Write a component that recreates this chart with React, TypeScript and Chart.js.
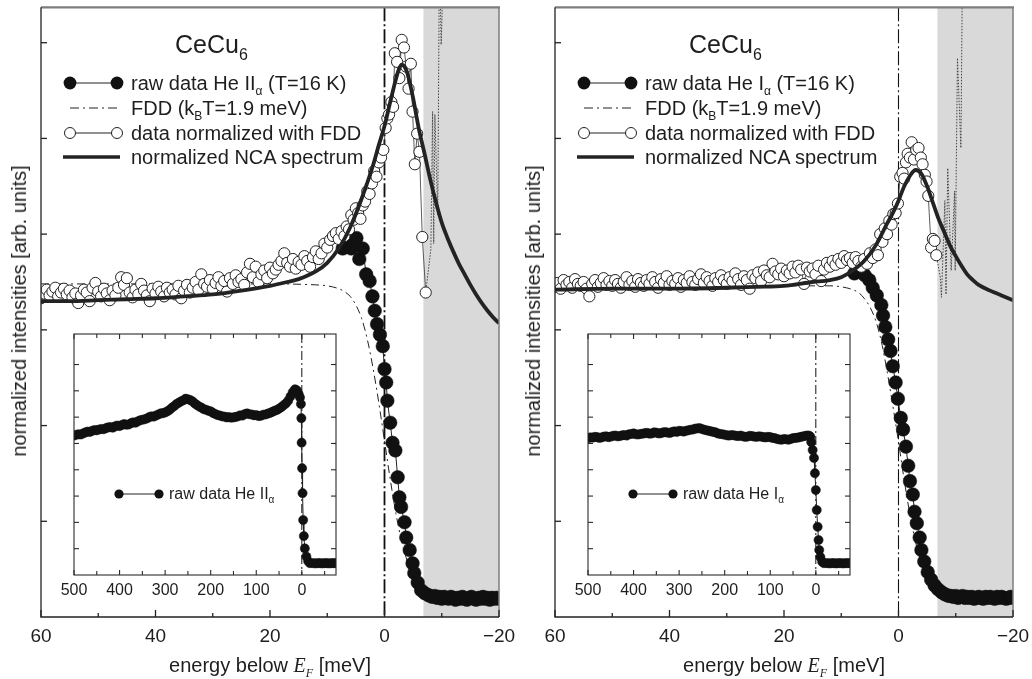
import React, { useEffect, useRef } from "react";
import { Chart, registerables } from "chart.js";

Chart.register(...registerables);

type Pt = [number, number];

const FONT = '"Liberation Sans", Arial, Helvetica, sans-serif';
const INK = "#1e1e1e";

// ---- axes ----
const MAIN_X_TICKS = [60, 40, 20, 0, -20];
const MAIN_X_MINOR = [50, 30, 10, -10];
const MAIN_Y_TICKS = [1, 2, 3, 4, 5, 6];
const MAIN_X_RANGE = [-20, 60];
const MAIN_Y_RANGE = [0, 6.37];
const SHADE_RANGE = [-6.8, -20];
const INSET_X_TICKS = [500, 400, 300, 200, 100, 0];
const INSET_X_MINOR = [450, 350, 250, 150, 50, -50];
const INSET_Y_TICKS = [1, 2, 3, 4, 5, 6, 7, 8];
const INSET_X_RANGE = [-75, 500];
const INSET_Y_RANGE = [0, 9.16];

// ---- left panel (He II) ----
const LEFT_NCA: Pt[] = [
  [60, 3.30], [55, 3.30], [50, 3.31], [45, 3.32], [40, 3.33], [35, 3.35], [30, 3.37], [25, 3.41],
  [20, 3.46], [17, 3.50], [15, 3.53], [12, 3.61], [10, 3.70], [8, 3.85], [6, 4.07], [4, 4.37],
  [2, 4.72], [1, 4.93], [0, 5.13], [-1, 5.38], [-2, 5.62], [-2.5, 5.72], [-3, 5.77], [-3.5, 5.75],
  [-4, 5.68], [-4.5, 5.56], [-5, 5.42], [-6, 5.10], [-7, 4.84], [-8, 4.57], [-9, 4.33], [-10, 4.12],
  [-11, 3.96], [-12, 3.82], [-13, 3.69], [-14, 3.58], [-15, 3.47], [-16, 3.37], [-17, 3.28],
  [-18, 3.20], [-19, 3.13], [-20, 3.07],
];
const LEFT_FDD: Pt[] = [
  [60, 3.48], [40, 3.48], [20, 3.48], [12, 3.47], [10, 3.46], [8, 3.43], [7, 3.40], [6, 3.35],
  [5, 3.26], [4, 3.12], [3, 2.90], [2, 2.60], [1, 2.24], [0, 1.84], [-1, 1.44], [-2, 1.08],
  [-3, 0.79], [-4, 0.58], [-5, 0.43], [-6, 0.33], [-7, 0.27], [-8, 0.24], [-10, 0.21], [-12, 0.20], [-20, 0.20],
];
const LEFT_NORM: Pt[] = [
  [60, 3.33], [59.5, 3.38], [59, 3.42], [58.5, 3.36], [58, 3.40], [57.5, 3.44], [57, 3.35], [56.5, 3.39],
  [56, 3.43], [55.5, 3.37], [55, 3.41], [54.5, 3.34], [54, 3.38], [53.5, 3.28], [53, 3.36], [52.5, 3.42],
  [52, 3.39], [51.5, 3.30], [51, 3.44], [50.5, 3.49], [50, 3.40], [49.5, 3.35], [49, 3.43], [48.5, 3.38],
  [48, 3.31], [47.5, 3.41], [47, 3.36], [46.5, 3.44], [46, 3.55], [45.5, 3.47], [45, 3.54], [44.5, 3.39],
  [44, 3.34], [43.5, 3.42], [43, 3.37], [42.5, 3.48], [42, 3.41], [41.5, 3.36], [41, 3.30], [40.5, 3.43],
  [40, 3.38], [39.5, 3.45], [39, 3.40], [38.5, 3.35], [38, 3.44], [37.5, 3.39], [37, 3.42], [36.5, 3.37],
  [36, 3.46], [35.5, 3.33], [35, 3.41], [34.5, 3.47], [34, 3.39], [33.5, 3.44], [33, 3.50], [32.5, 3.42],
  [32, 3.58], [31.5, 3.48], [31, 3.45], [30.5, 3.52], [30, 3.43], [29.5, 3.49], [29, 3.55], [28.5, 3.46],
  [28, 3.51], [27.5, 3.40], [27, 3.54], [26.5, 3.48], [26, 3.57], [25.5, 3.50], [25, 3.53], [24.5, 3.47],
  [24, 3.60], [23.5, 3.69], [23, 3.55], [22.5, 3.66], [22, 3.50], [21.5, 3.58], [21, 3.62], [20.5, 3.54],
  [20, 3.65], [19.5, 3.59], [19, 3.63], [18.5, 3.68], [18, 3.72], [17.5, 3.80], [17, 3.70], [16.5, 3.66],
  [16, 3.74], [15.5, 3.64], [15, 3.71], [14.5, 3.68], [14, 3.77], [13.5, 3.72], [13, 3.66], [12.5, 3.76],
  [12, 3.82], [11.5, 3.74], [11, 3.80], [10.5, 3.90], [10, 3.86], [9.5, 3.94], [9, 3.98], [8.5, 4.01],
  [8, 3.95], [7.5, 4.03], [7, 3.98], [6.6, 4.08], [6.2, 4.05], [5.8, 4.20], [5.4, 4.15], [5, 4.27],
  [4.6, 4.22], [4.2, 4.16], [3.8, 4.30], [3.4, 4.34], [3, 4.45], [2.6, 4.42], [2.2, 4.53], [1.8, 4.66],
  [1.4, 4.60], [1, 4.75], [0.6, 4.80], [0.2, 4.88], [-0.2, 5.11], [-0.5, 5.21], [-0.8, 5.25], [-1.2, 5.38],
  [-1.5, 5.33], [-1.8, 5.89], [-2.2, 5.80], [-2.6, 5.63], [-3, 6.03], [-3.4, 5.95], [-3.8, 5.75],
  [-4.2, 5.52], [-4.6, 5.78], [-4.9, 5.28], [-5.3, 4.73], [-5.7, 5.05], [-6.1, 4.86], [-6.6, 3.97], [-7.2, 3.39],
];
const LEFT_DOTTED: Pt[] = [
  [-7.2, 3.39], [-8.1, 3.84], [-8.4, 5.28], [-8.6, 3.90], [-8.8, 5.25], [-9.3, 4.20], [-9.6, 7.0],
  [-9.9, 5.98], [-10.4, 7.0],
];
const LEFT_RAW: Pt[] = [
  [7.3, 3.85], [6.5, 3.92], [5.8, 3.85], [4.9, 3.96], [4.4, 3.74], [3.8, 3.85], [3.2, 3.58], [2.6, 3.51],
  [2.1, 3.35], [1.7, 3.20], [1.3, 3.06], [0.8, 2.95], [0.3, 2.83], [0, 2.59], [-0.3, 2.45], [-0.5, 2.26],
  [-1, 2.03], [-1.4, 1.82], [-1.9, 1.74], [-2.3, 1.46], [-2.6, 1.25], [-2.9, 1.15], [-3.5, 0.99],
  [-3.8, 0.83], [-4.4, 0.70], [-4.9, 0.56], [-5.2, 0.46], [-5.8, 0.36], [-6.4, 0.28], [-7, 0.25], [-7.6, 0.23],
  [-8, 0.22], [-8.4, 0.21], [-8.8, 0.22], [-9.2, 0.20], [-9.6, 0.21], [-10, 0.19], [-10.4, 0.21], [-10.8, 0.20],
  [-11.2, 0.19], [-11.6, 0.21], [-12, 0.20], [-12.4, 0.18], [-12.8, 0.20], [-13.2, 0.19], [-13.6, 0.21],
  [-14, 0.19], [-14.4, 0.18], [-14.8, 0.20], [-15.2, 0.21], [-15.6, 0.19], [-16, 0.18], [-16.4, 0.20],
  [-16.8, 0.19], [-17.2, 0.21], [-17.6, 0.19], [-18, 0.20], [-18.4, 0.18], [-18.8, 0.20], [-19.2, 0.19],
  [-19.6, 0.20], [-20, 0.19],
];
const LEFT_INSET: Pt[] = [
  [500, 5.30], [495, 5.33], [490, 5.35], [485, 5.34], [480, 5.38], [475, 5.42], [470, 5.45], [465, 5.44],
  [460, 5.48], [455, 5.51], [450, 5.50], [445, 5.53], [440, 5.55], [435, 5.54], [430, 5.58], [425, 5.61],
  [420, 5.62], [415, 5.60], [410, 5.65], [405, 5.68], [400, 5.66], [395, 5.70], [390, 5.74], [385, 5.71],
  [380, 5.72], [375, 5.77], [370, 5.80], [365, 5.79], [360, 5.84], [355, 5.88], [350, 5.90], [345, 5.92],
  [340, 5.95], [335, 6.00], [330, 6.03], [325, 6.02], [320, 6.06], [315, 6.10], [310, 6.14], [305, 6.15],
  [300, 6.18], [295, 6.22], [290, 6.28], [285, 6.36], [280, 6.42], [275, 6.50], [270, 6.55], [265, 6.60],
  [260, 6.64], [255, 6.70], [250, 6.68], [245, 6.65], [240, 6.60], [235, 6.52], [230, 6.46], [225, 6.40],
  [220, 6.36], [215, 6.30], [210, 6.28], [205, 6.24], [200, 6.22], [195, 6.16], [190, 6.12], [185, 6.08],
  [180, 6.06], [175, 6.03], [170, 6.02], [165, 5.99], [160, 6.00], [155, 5.98], [150, 5.99], [145, 6.01],
  [140, 6.03], [135, 6.07], [130, 6.06], [125, 6.12], [120, 6.14], [115, 6.11], [110, 6.10], [105, 6.07],
  [100, 6.08], [95, 6.04], [90, 6.05], [85, 6.09], [80, 6.10], [75, 6.13], [70, 6.16], [65, 6.20],
  [60, 6.24], [55, 6.27], [50, 6.32], [45, 6.38], [40, 6.45], [35, 6.52], [30, 6.62], [25, 6.78],
  [20, 6.95], [15, 7.06], [11, 7.02], [7, 6.88], [4, 6.75], [2, 6.50], [1, 5.96], [0.4, 5.03],
  [-0.6, 4.06], [-1.6, 3.11], [-2.9, 2.09], [-4.4, 1.48], [-6.6, 1.01], [-10, 0.70], [-14, 0.52],
  [-18, 0.45], [-25, 0.45], [-30, 0.44], [-35, 0.45], [-40, 0.45], [-45, 0.44], [-50, 0.45], [-55, 0.45],
  [-60, 0.44], [-65, 0.45], [-70, 0.45], [-75, 0.45],
];

// ---- right panel (He I) ----
const RIGHT_NCA: Pt[] = [
  [60, 3.42], [50, 3.43], [40, 3.43], [30, 3.44], [25, 3.45], [20, 3.46], [15, 3.50], [12, 3.52],
  [10, 3.55], [8, 3.62], [6, 3.72], [4, 3.88], [2, 4.11], [1, 4.22], [0, 4.35], [-1, 4.50], [-2, 4.61],
  [-3, 4.67], [-4, 4.63], [-5, 4.50], [-6, 4.33], [-7, 4.16], [-8, 4.02], [-9, 3.88], [-10, 3.77],
  [-11, 3.67], [-12, 3.58], [-13, 3.52], [-14, 3.47], [-16, 3.41], [-18, 3.36], [-20, 3.31],
];
const RIGHT_FDD: Pt[] = [
  [60, 3.46], [20, 3.46], [12, 3.46], [10, 3.45], [8, 3.42], [7, 3.39], [6, 3.33], [5, 3.24], [4, 3.10],
  [3, 2.88], [2, 2.57], [1, 2.21], [0, 1.83], [-1, 1.43], [-2, 1.07], [-3, 0.78], [-4, 0.57], [-5, 0.42],
  [-6, 0.32], [-7, 0.27], [-8, 0.24], [-10, 0.21], [-20, 0.20],
];
const RIGHT_NORM: Pt[] = [
  [60, 3.45], [59.5, 3.49], [59, 3.43], [58.5, 3.52], [58, 3.47], [57.5, 3.50], [57, 3.44], [56.5, 3.53],
  [56, 3.48], [55.5, 3.46], [55, 3.50], [54.5, 3.43], [54, 3.35], [53.5, 3.48], [53, 3.52], [52.5, 3.45],
  [52, 3.49], [51.5, 3.54], [51, 3.47], [50.5, 3.51], [50, 3.46], [49.5, 3.52], [49, 3.48], [48.5, 3.44],
  [48, 3.50], [47.5, 3.55], [47, 3.47], [46.5, 3.51], [46, 3.45], [45.5, 3.53], [45, 3.49], [44.5, 3.46],
  [44, 3.52], [43.5, 3.48], [43, 3.55], [42.5, 3.50], [42, 3.44], [41.5, 3.53], [41, 3.49], [40.5, 3.56],
  [40, 3.47], [39.5, 3.51], [39, 3.48], [38.5, 3.54], [38, 3.45], [37.5, 3.52], [37, 3.49], [36.5, 3.56],
  [36, 3.50], [35.5, 3.47], [35, 3.53], [34.5, 3.58], [34, 3.49], [33.5, 3.55], [33, 3.51], [32.5, 3.46],
  [32, 3.54], [31.5, 3.50], [31, 3.57], [30.5, 3.52], [30, 3.48], [29.5, 3.55], [29, 3.51], [28.5, 3.59],
  [28, 3.53], [27.5, 3.47], [27, 3.56], [26.5, 3.52], [26, 3.43], [25.5, 3.57], [25, 3.54], [24.5, 3.60],
  [24, 3.51], [23.5, 3.62], [23, 3.57], [22.5, 3.55], [22, 3.69], [21.5, 3.61], [21, 3.58], [20.5, 3.64],
  [20, 3.56], [19.5, 3.62], [19, 3.59], [18.5, 3.66], [18, 3.60], [17.5, 3.67], [17, 3.63], [16.5, 3.48],
  [16, 3.65], [15.5, 3.61], [15, 3.64], [14.5, 3.58], [14, 3.67], [13.5, 3.51], [13, 3.63], [12.5, 3.70],
  [12, 3.66], [11.5, 3.72], [11, 3.68], [10.5, 3.74], [10, 3.70], [9.5, 3.77], [9, 3.73], [8.5, 3.75],
  [8, 3.70], [7.5, 3.76], [7, 3.72], [6.5, 3.66], [6, 3.74], [5.5, 3.69], [5, 3.80], [4.5, 3.75],
  [4, 3.84], [3.6, 3.78], [3.2, 4.00], [2.8, 3.92], [2.4, 4.06], [2, 4.00], [1.6, 4.14], [1.2, 4.10],
  [0.9, 4.21], [0.5, 4.22], [0.1, 4.32], [-0.3, 4.60], [-0.7, 4.64], [-1, 4.58], [-1.3, 4.75],
  [-1.6, 4.84], [-2, 4.80], [-2.3, 4.96], [-2.7, 4.78], [-3.1, 4.88], [-3.5, 4.90], [-3.9, 4.80],
  [-4.2, 4.73], [-4.6, 4.62], [-4.9, 4.55], [-5.2, 4.40], [-5.7, 3.86], [-6, 3.95], [-6.3, 3.93], [-6.6, 3.78],
];
const RIGHT_DOTTED: Pt[] = [
  [-6.6, 3.78], [-7.3, 3.55], [-7.5, 3.34], [-8.1, 4.35], [-8.3, 3.37], [-8.6, 4.69], [-9.2, 3.62],
  [-9.8, 4.45], [-9.9, 3.62], [-10.3, 5.84], [-10.9, 4.90], [-11.2, 7.0],
];
const RIGHT_RAW: Pt[] = [
  [7.7, 3.59], [6.8, 3.61], [5.9, 3.57], [5.1, 3.52], [4.5, 3.44], [3.8, 3.36], [3, 3.26], [2.7, 3.15],
  [2.3, 3.03], [1.8, 2.90], [1.4, 2.78], [1, 2.62], [0.5, 2.45], [0.1, 2.28], [-0.4, 2.08], [-0.8, 1.96],
  [-1.3, 1.78], [-1.7, 1.58], [-2, 1.42], [-2.5, 1.28], [-2.8, 1.10], [-3.2, 0.98], [-3.7, 0.83],
  [-4, 0.70], [-4.5, 0.58], [-5.1, 0.47], [-5.7, 0.39], [-6.3, 0.33], [-6.9, 0.29], [-7.5, 0.26], [-8, 0.24],
  [-8.4, 0.23], [-8.8, 0.22], [-9.2, 0.22], [-9.6, 0.21], [-10, 0.22], [-10.4, 0.20], [-10.8, 0.21],
  [-11.2, 0.22], [-11.6, 0.20], [-12, 0.21], [-12.4, 0.20], [-12.8, 0.21], [-13.2, 0.19], [-13.6, 0.20],
  [-14, 0.21], [-14.4, 0.20], [-14.8, 0.19], [-15.2, 0.21], [-15.6, 0.20], [-16, 0.21], [-16.4, 0.20],
  [-16.8, 0.19], [-17.2, 0.21], [-17.6, 0.20], [-18, 0.21], [-18.4, 0.20], [-18.8, 0.19], [-19.2, 0.20],
  [-19.6, 0.21], [-20, 0.20],
];
const RIGHT_INSET: Pt[] = [
  [500, 5.20], [495, 5.23], [490, 5.22], [485, 5.25], [480, 5.24], [475, 5.21], [470, 5.23], [465, 5.26],
  [460, 5.27], [455, 5.24], [450, 5.26], [445, 5.29], [440, 5.30], [435, 5.27], [430, 5.28], [425, 5.31],
  [420, 5.32], [415, 5.30], [410, 5.35], [405, 5.36], [400, 5.38], [395, 5.35], [390, 5.34], [385, 5.36],
  [380, 5.37], [375, 5.39], [370, 5.40], [365, 5.37], [360, 5.38], [355, 5.42], [350, 5.41], [345, 5.38],
  [340, 5.39], [335, 5.42], [330, 5.43], [325, 5.41], [320, 5.40], [315, 5.44], [310, 5.46], [305, 5.44],
  [300, 5.48], [295, 5.47], [290, 5.45], [285, 5.48], [280, 5.50], [275, 5.52], [270, 5.53], [265, 5.56],
  [260, 5.57], [255, 5.58], [250, 5.55], [245, 5.52], [240, 5.50], [235, 5.48], [230, 5.46], [225, 5.44],
  [220, 5.42], [215, 5.38], [210, 5.36], [205, 5.35], [200, 5.33], [195, 5.31], [190, 5.30], [185, 5.32],
  [180, 5.31], [175, 5.29], [170, 5.28], [165, 5.30], [160, 5.27], [155, 5.25], [150, 5.26], [145, 5.29],
  [140, 5.28], [135, 5.26], [130, 5.25], [125, 5.27], [120, 5.26], [115, 5.24], [110, 5.23], [105, 5.25],
  [100, 5.24], [95, 5.21], [90, 5.20], [85, 5.17], [80, 5.15], [75, 5.14], [70, 5.17], [65, 5.16],
  [60, 5.14], [55, 5.17], [50, 5.20], [45, 5.21], [40, 5.22], [35, 5.24], [30, 5.26], [25, 5.28],
  [20, 5.30], [15, 5.30], [12, 5.25], [10, 5.05], [7, 4.75], [4, 4.45], [2, 3.87], [0, 3.23], [-2, 2.47],
  [-4, 1.83], [-6, 1.33], [-7.5, 0.95], [-10, 0.68], [-14, 0.50], [-18, 0.45], [-25, 0.45], [-30, 0.44],
  [-35, 0.45], [-40, 0.45], [-45, 0.44], [-50, 0.45], [-55, 0.45], [-60, 0.44], [-65, 0.45], [-70, 0.45],
  [-75, 0.45],
];

const toXY = (d: Pt[]) => d.map(([x, y]) => ({ x, y }));
const fmt = (v: number) => (v < 0 ? "\u2212" + Math.abs(v) : String(v));

function seg(ctx: CanvasRenderingContext2D, x1: number, y1: number, x2: number, y2: number) {
  ctx.beginPath();
  ctx.moveTo(x1, y1);
  ctx.lineTo(x2, y2);
  ctx.stroke();
}

function mainDecor(zeroWidth: number) {
  return {
    id: "mainDecor",
    beforeDatasetsDraw(chart: any) {
      const { ctx, chartArea: a, scales } = chart;
      const x = scales.x;
      ctx.save();
      const x1 = x.getPixelForValue(SHADE_RANGE[0]);
      const x2 = x.getPixelForValue(SHADE_RANGE[1]);
      ctx.fillStyle = "#d9d9d9";
      ctx.fillRect(Math.min(x1, x2), a.top, Math.abs(x2 - x1), a.bottom - a.top);
      const x0 = x.getPixelForValue(0);
      ctx.strokeStyle = "#111";
      ctx.lineWidth = zeroWidth;
      ctx.setLineDash([14, 3, 2, 3]);
      seg(ctx, x0, a.top, x0, a.bottom);
      ctx.restore();
    },
    afterDatasetsDraw(chart: any) {
      const { ctx, chartArea: a, scales } = chart;
      const { x, y } = scales;
      ctx.save();
      ctx.setLineDash([]);
      ctx.strokeStyle = "#7d7d7d";
      ctx.lineWidth = 2.2;
      seg(ctx, a.left, a.top, a.right + 1, a.top);
      ctx.lineWidth = 1.5;
      seg(ctx, a.right, a.top, a.right, a.bottom);
      ctx.strokeStyle = "#222";
      ctx.lineWidth = 1.3;
      ctx.beginPath();
      ctx.moveTo(a.left, a.top);
      ctx.lineTo(a.left, a.bottom);
      ctx.lineTo(a.right, a.bottom);
      ctx.stroke();
      MAIN_X_TICKS.forEach((v) => {
        const px = x.getPixelForValue(v);
        seg(ctx, px, a.bottom, px, a.bottom - 7);
      });
      MAIN_X_MINOR.forEach((v) => {
        const px = x.getPixelForValue(v);
        seg(ctx, px, a.bottom, px, a.bottom - 4);
      });
      MAIN_Y_TICKS.forEach((v) => {
        const py = y.getPixelForValue(v);
        seg(ctx, a.left, py, a.left + 6, py);
      });
      ctx.restore();
    },
  };
}

const insetDecor = {
  id: "insetDecor",
  beforeDatasetsDraw(chart: any) {
    const { ctx, chartArea: a, scales } = chart;
    ctx.save();
    ctx.fillStyle = "#fff";
    ctx.fillRect(a.left, a.top, a.right - a.left, a.bottom - a.top);
    const x0 = scales.x.getPixelForValue(0);
    ctx.strokeStyle = "#111";
    ctx.lineWidth = 1;
    ctx.setLineDash([9, 3, 2, 3]);
    seg(ctx, x0, a.top, x0, a.bottom);
    ctx.restore();
  },
  afterDatasetsDraw(chart: any) {
    const { ctx, chartArea: a, scales } = chart;
    const { x, y } = scales;
    ctx.save();
    ctx.setLineDash([]);
    ctx.strokeStyle = "#2a2a2a";
    ctx.lineWidth = 1.1;
    ctx.strokeRect(a.left, a.top, a.right - a.left, a.bottom - a.top);
    const xt = (v: number, len: number) => {
      const px = x.getPixelForValue(v);
      seg(ctx, px, a.bottom, px, a.bottom - len);
      seg(ctx, px, a.top, px, a.top + len);
    };
    INSET_X_TICKS.forEach((v) => xt(v, 5));
    INSET_X_MINOR.forEach((v) => xt(v, 4));
    INSET_Y_TICKS.forEach((v) => {
      const py = y.getPixelForValue(v);
      seg(ctx, a.left, py, a.left + 5, py);
      seg(ctx, a.right, py, a.right - 5, py);
    });
    ctx.restore();
  },
};

type PanelProps = {
  off: number;
  nca: Pt[];
  fdd: Pt[];
  norm: Pt[];
  dotted: Pt[];
  raw: Pt[];
  inset: Pt[];
  zeroWidth: number;
  line: string;
};

function Sub({ children, size = 12, dy = 5 }: { children: any; size?: number; dy?: number }) {
  return <span style={{ fontSize: size, position: "relative", top: dy }}>{children}</span>;
}

function MainPanel(p: PanelProps) {
  const mainRef = useRef<HTMLCanvasElement>(null);
  const insetRef = useRef<HTMLCanvasElement>(null);

  useEffect(() => {
    const main = new Chart(mainRef.current as HTMLCanvasElement, {
      type: "line",
      data: {
        datasets: [
          { label: "normalized NCA spectrum", data: toXY(p.nca), borderColor: "#232323", borderWidth: 3.8, pointRadius: 0, cubicInterpolationMode: "monotone", order: 0 } as any,
          { label: "data normalized with FDD", data: toXY(p.norm), borderColor: "#333", borderWidth: 0.8, pointRadius: 5.6, pointBackgroundColor: "#fff", pointBorderColor: "#222", pointBorderWidth: 1, order: 1 },
          { label: "normalized (beyond range)", data: toXY(p.dotted), borderColor: "#444", borderWidth: 1, borderDash: [1.5, 1.5], pointRadius: 0, order: 2 },
          { label: "raw data", data: toXY(p.raw), borderColor: "#222", borderWidth: 1, pointRadius: 6.8, pointBackgroundColor: "#111", pointBorderColor: "#111", pointBorderWidth: 0.5, order: 3 },
          { label: "FDD", data: toXY(p.fdd), borderColor: "#222", borderWidth: 1, borderDash: [8, 4, 2, 4], pointRadius: 0, cubicInterpolationMode: "monotone", order: 4 } as any,
        ],
      },
      options: {
        animation: false,
        responsive: false,
        devicePixelRatio: 1,
        layout: { padding: { left: 0, top: 6, right: 17, bottom: 0 } },
        plugins: { legend: { display: false }, tooltip: { enabled: false } },
        scales: {
          x: {
            type: "linear",
            min: MAIN_X_RANGE[0],
            max: MAIN_X_RANGE[1],
            reverse: true,
            grid: { display: false, drawTicks: false },
            border: { display: false },
            ticks: { font: { family: FONT, size: 19 }, color: INK, padding: 8, maxRotation: 0, autoSkip: false, callback: (v: any) => fmt(Number(v)) },
            afterBuildTicks: (s: any) => { s.ticks = MAIN_X_TICKS.map((v) => ({ value: v })); },
            afterFit: (s: any) => { s.height = 62; s.paddingLeft = 0; s.paddingRight = 0; },
          },
          y: {
            type: "linear",
            min: MAIN_Y_RANGE[0],
            max: MAIN_Y_RANGE[1],
            grid: { display: false, drawTicks: false },
            border: { display: false },
            ticks: { display: false },
            afterFit: (s: any) => { s.width = 41; s.paddingTop = 0; s.paddingBottom = 0; },
          },
        },
      },
      plugins: [mainDecor(p.zeroWidth)],
    });

    const inset = new Chart(insetRef.current as HTMLCanvasElement, {
      type: "line",
      data: {
        datasets: [
          { label: p.line, data: toXY(p.inset), borderColor: "#222", borderWidth: 1, pointRadius: 4.6, pointBackgroundColor: "#111", pointBorderColor: "#111", pointBorderWidth: 0.5 },
        ],
      },
      options: {
        animation: false,
        responsive: false,
        devicePixelRatio: 1,
        layout: { padding: { left: 0, top: 10, right: 14, bottom: 0 } },
        plugins: { legend: { display: false }, tooltip: { enabled: false } },
        scales: {
          x: {
            type: "linear",
            min: INSET_X_RANGE[0],
            max: INSET_X_RANGE[1],
            reverse: true,
            grid: { display: false, drawTicks: false },
            border: { display: false },
            ticks: { font: { family: FONT, size: 16 }, color: INK, padding: 6, maxRotation: 0, autoSkip: false, callback: (v: any) => fmt(Number(v)) },
            afterBuildTicks: (s: any) => { s.ticks = INSET_X_TICKS.map((v) => ({ value: v })); },
            afterFit: (s: any) => { s.height = 39; s.paddingLeft = 0; s.paddingRight = 0; },
          },
          y: {
            type: "linear",
            min: INSET_Y_RANGE[0],
            max: INSET_Y_RANGE[1],
            grid: { display: false, drawTicks: false },
            border: { display: false },
            ticks: { display: false },
            afterFit: (s: any) => { s.width = 44; s.paddingTop = 0; s.paddingBottom = 0; },
          },
        },
      },
      plugins: [insetDecor],
    });

    return () => {
      main.destroy();
      inset.destroy();
    };
  }, []);

  const o = p.off;
  const rowTop = [73, 98, 123, 147];
  const textStyle: React.CSSProperties = { position: "absolute", left: 131 + o, fontSize: 20, lineHeight: "20px", whiteSpace: "nowrap" };
  const svgStyle = (i: number): React.CSSProperties => ({ position: "absolute", left: 60 + o, top: rowTop[i], width: 64, height: 20, overflow: "visible" });

  return (
    <>
      <canvas ref={mainRef} width={516} height={679} style={{ position: "absolute", left: o, top: 0 }} />
      <canvas ref={insetRef} width={320} height={290} style={{ position: "absolute", left: o + 30, top: 324 }} />

      {/* title */}
      <div style={{ position: "absolute", left: 175 + o, top: 32, fontSize: 25, lineHeight: "25px", whiteSpace: "nowrap" }}>
        CeCu<Sub size={16} dy={7}>6</Sub>
      </div>

      {/* legend */}
      <svg style={svgStyle(0)}>
        <line x1={10} y1={10} x2={57} y2={10} stroke="#222" strokeWidth={1} />
        <circle cx={10} cy={10} r={6.4} fill="#111" />
        <circle cx={57} cy={10} r={6.4} fill="#111" />
      </svg>
      <div style={{ ...textStyle, top: rowTop[0] }}>
        raw data He {p.line}<Sub>α</Sub> (T=16 K)
      </div>
      <svg style={svgStyle(1)}>
        <line x1={10} y1={10} x2={58} y2={10} stroke="#222" strokeWidth={1} strokeDasharray="9 4 2 4" />
      </svg>
      <div style={{ ...textStyle, top: rowTop[1] }}>
        FDD (k<Sub>B</Sub>T=1.9 meV)
      </div>
      <svg style={svgStyle(2)}>
        <line x1={10} y1={10} x2={57} y2={10} stroke="#222" strokeWidth={1} />
        <circle cx={10} cy={10} r={5.5} fill="#fff" stroke="#222" strokeWidth={1} />
        <circle cx={57} cy={10} r={5.5} fill="#fff" stroke="#222" strokeWidth={1} />
      </svg>
      <div style={{ ...textStyle, top: rowTop[2] }}>data normalized with FDD</div>
      <svg style={svgStyle(3)}>
        <line x1={3} y1={10} x2={60} y2={10} stroke="#232323" strokeWidth={3.6} />
      </svg>
      <div style={{ ...textStyle, top: rowTop[3] }}>normalized NCA spectrum</div>

      {/* inset legend */}
      <svg style={{ position: "absolute", left: 110 + o, top: 484, width: 60, height: 20, overflow: "visible" }}>
        <line x1={9} y1={10} x2={49} y2={10} stroke="#222" strokeWidth={1} />
        <circle cx={9} cy={10} r={4.6} fill="#111" />
        <circle cx={49} cy={10} r={4.6} fill="#111" />
      </svg>
      <div style={{ position: "absolute", left: 169 + o, top: 486, fontSize: 16, lineHeight: "16px", whiteSpace: "nowrap" }}>
        raw data He {p.line}<Sub size={10} dy={4}>α</Sub>
      </div>

      {/* axis titles */}
      <div
        style={{
          position: "absolute",
          left: 19 + o,
          top: 311,
          fontSize: 20,
          lineHeight: "20px",
          whiteSpace: "nowrap",
          transform: "translate(-50%, -50%) rotate(-90deg)",
        }}
      >
        normalized intensities [arb. units]
      </div>
      <div
        style={{
          position: "absolute",
          left: 270 + o,
          top: 655,
          fontSize: 20,
          lineHeight: "20px",
          whiteSpace: "nowrap",
          transform: "translateX(-50%)",
        }}
      >
        energy below{" "}
        <span style={{ fontFamily: '"Liberation Serif", "Times New Roman", serif', fontStyle: "italic" }}>
          E<span style={{ fontSize: 12, position: "relative", top: 5 }}>F</span>
        </span>{" "}
        [meV]
      </div>
    </>
  );
}

export default function App() {
  return (
    <div
      style={{
        position: "absolute",
        left: 0,
        top: 0,
        width: 1032,
        height: 679,
        background: "#fff",
        fontFamily: FONT,
        color: INK,
        overflow: "hidden",
      }}
    >
      <MainPanel off={0} nca={LEFT_NCA} fdd={LEFT_FDD} norm={LEFT_NORM} dotted={LEFT_DOTTED} raw={LEFT_RAW} inset={LEFT_INSET} zeroWidth={1.8} line="II" />
      <MainPanel off={514} nca={RIGHT_NCA} fdd={RIGHT_FDD} norm={RIGHT_NORM} dotted={RIGHT_DOTTED} raw={RIGHT_RAW} inset={RIGHT_INSET} zeroWidth={1.1} line="I" />
    </div>
  );
}
